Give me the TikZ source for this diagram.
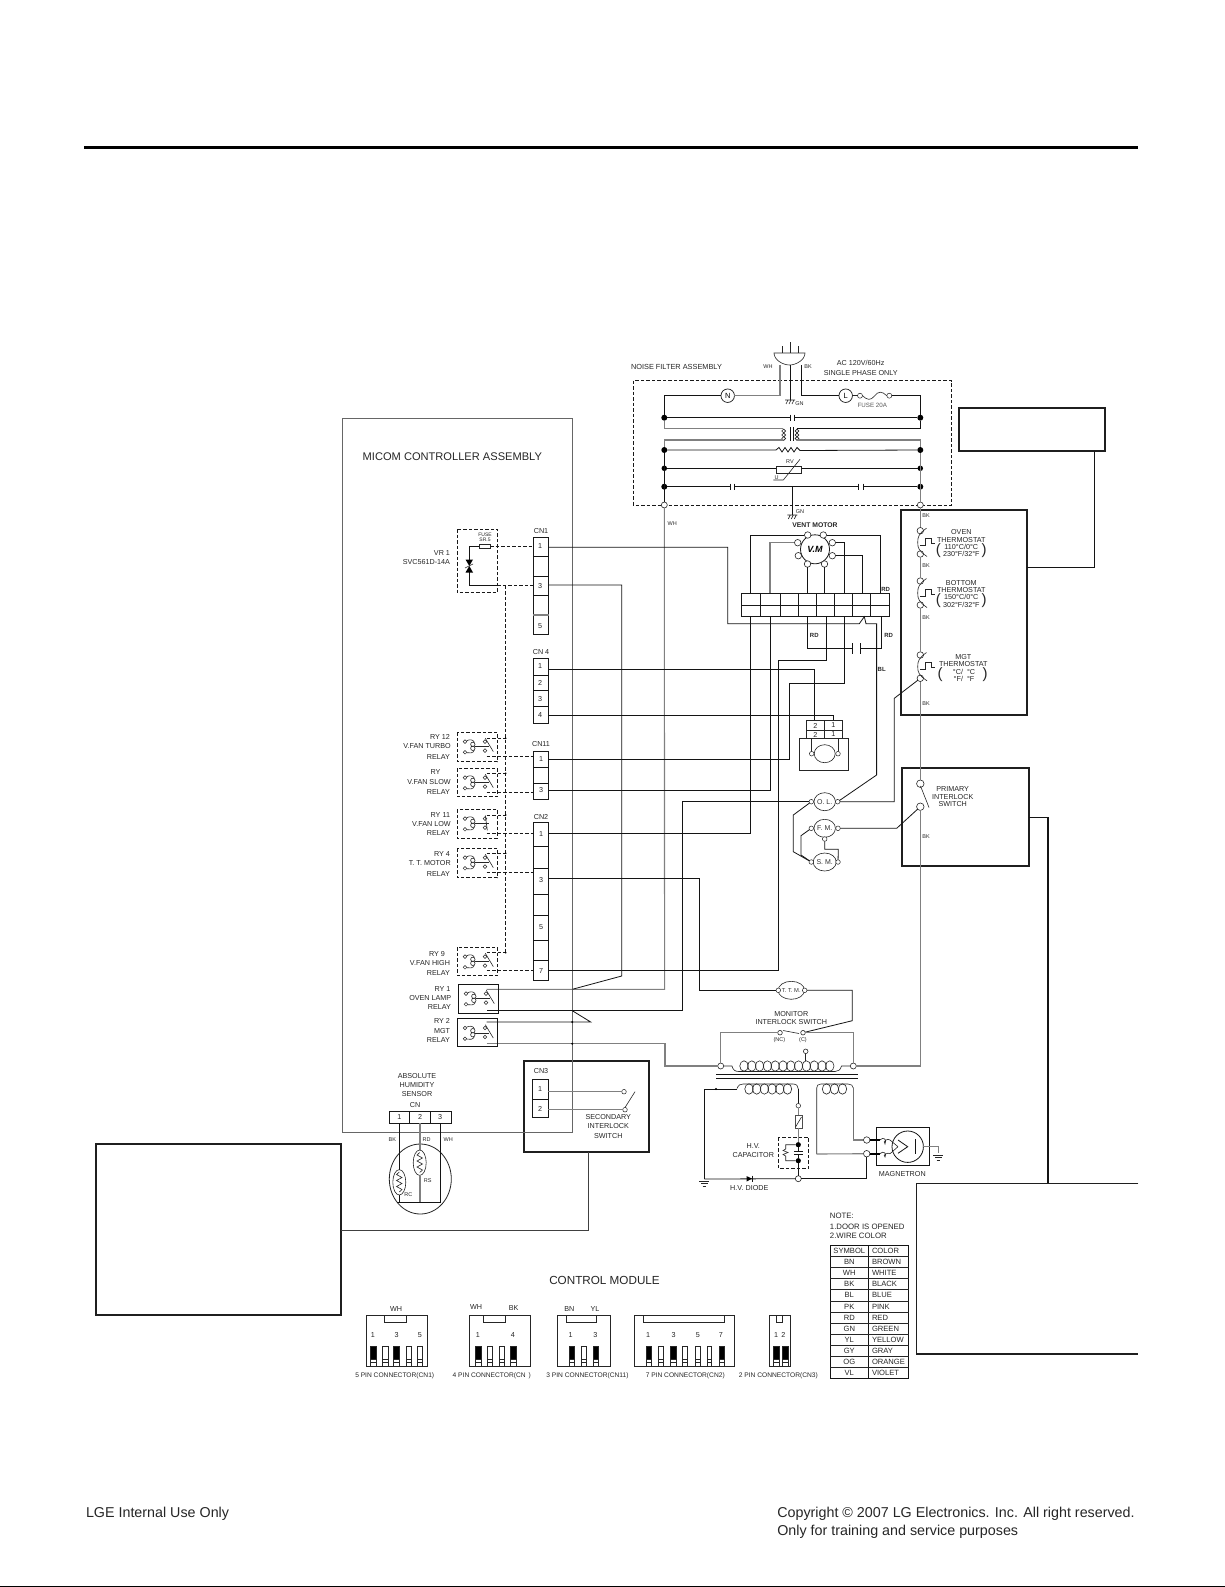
\documentclass[tikz,border=0pt]{standalone}
\usepackage{fontspec}
\setmainfont{Liberation Sans}
\usetikzlibrary{shapes.geometric}
\newcounter{lb}
\tikzset{
 lbl/.style={inner sep=0,outer sep=0,text=black!85,font=\fontsize{7.2}{7.2}\selectfont},
 sm/.style={font=\fontsize{5.5}{5.5}\selectfont},
 smb/.style={font=\fontsize{6}{6}\bfseries\selectfont},
 w/.style={line width=.8,draw=black!92},
 gw/.style={line width=1.1,draw=black!50},
 tw/.style={line width=.6,draw=black!85},
 thickbox/.style={line width=2,draw=black!88},
 dbox/.style={line width=.8,draw=black!90,dash pattern=on 3.5 off 2},
 tc/.style={circle,draw=black!85,line width=.6,fill=white,minimum size=6.5,inner sep=0,outer sep=0},
 tcs/.style={circle,draw=black!85,line width=.5,fill=white,minimum size=3.6,inner sep=0,outer sep=0},
 bigdot/.style={circle,fill=black,minimum size=6,inner sep=0,outer sep=0},
 motor/.style={ellipse,draw=black!85,line width=.6,fill=white,minimum width=21,minimum height=18,inner sep=0,outer sep=0,text=black!80,font=\fontsize{7}{7}\selectfont},
 cell/.style={draw=black!90,line width=.8,fill=white},
 ringn/.style={circle,draw=black!90,line width=.7,minimum size=13.5,inner sep=0,outer sep=0,font=\fontsize{7.5}{7.5}\selectfont},
}
\newcommand{\lab}[4][]{\stepcounter{lb}\node[lbl,#1] (lb\arabic{lb}) at (#2,#3) {#4};}
\newcommand{\gndsym}[2]{\draw[tw] (#1-5,#2)--(#1+5,#2) (#1-3.3,#2+2.5)--(#1+3.3,#2+2.5) (#1-1.7,#2+5)--(#1+1.7,#2+5);}
\newcommand{\hatchgnd}[2]{\draw[tw] (#1-5,#2)--(#1+5,#2) (#1-4,#2+4)--(#1-2,#2) (#1-1,#2+4)--(#1+1,#2) (#1+2,#2+4)--(#1+4,#2);}
\newcommand{\relay}[5]{%
 \begin{scope}[shift={(#2,#3)}]
 \node[tcs] (#1a) at (7.7,9.3) {};
 \node[tcs] (#1b) at (7.7,20) {};
 \node[tcs] (#1k) at (27.7,9.3) {};
 \node[tcs] (#1l) at (27.7,18.3) {};
 \draw[tw] (#1a) .. controls (12,7) and (16,7) .. (17,10);
 \draw[tw] (#1b) .. controls (12,21) and (16,21) .. (17,18);
 \draw[tw] (15.5,12) circle[x radius=2.2,y radius=2.2] (15.5,16) circle[x radius=2.2,y radius=2.2];
 \draw[tw] (18,14.3) -- (32,14.3);
 \draw[tw] (28,6) -- (#4,#5);
 \end{scope}}
\newcommand{\tstat}[3]{% name, top y, bottom y
 \node[tc] (#1t) at (920.3,#2) {};
 \node[tc] (#1b) at (920.3,#3) {};
 \pgfmathsetmacro{\mm}{(#2+#3)/2}
 \draw[tw] (926.5,#2-2.5) .. controls (919,#2+3) and (917.7,\mm-6) .. (917.7,\mm) .. controls (917.7,\mm+6) and (919,#3-3) .. (927,#3+2.5);
 \draw[tw] (920,\mm+3) -- (925.3,\mm+3) -- (925.3,\mm-4) -- (931.7,\mm-4) -- (931.7,\mm+1) -- (935,\mm+1);}
\newcommand{\coilrow}[4]{% x start, y, count, pitch
 \foreach \ci in {1,...,#3}{\draw[tw] (#1+\ci*#4-#4,#2) circle[x radius=4.2,y radius=5.2];}}
\begin{document}
\begin{tikzpicture}[x=1pt,y=-1pt]
\useasboundingbox (0,0) rectangle (1225,1587);
\fill[white] (0,0) rectangle (1225,1587);
% page furniture
\draw[line width=3.3,black] (84,147.3) coordinate (ruleA) -- (1138,147.3) coordinate (ruleB);
\draw[line width=1,black] (0,1586) coordinate (footA) -- (1225,1586) coordinate (footB);
\lab[anchor=west,font=\fontsize{14.3}{14.3}\selectfont]{86}{1513.4}{LGE Internal Use Only}
\lab[anchor=west,font=\fontsize{14.3}{14.3}\selectfont]{777.3}{1513.4}{Copyright © 2007 LG Electronics. Inc. All right reserved.}
\lab[anchor=west,font=\fontsize{14.3}{14.3}\selectfont]{777.3}{1531.6}{Only for training and service purposes}
% blank boxes
\draw[thickbox] (95.7,1144.3) rectangle (341.3,1315);
\draw[line width=1.3,draw=black!88] (1138.3,1183.3) coordinate (rbA) -- (916.3,1183.3) -- (916.3,1354) -- (1138.3,1354);
\draw[thickbox] (959.3,407.7) rectangle (1104.5,450.7);
\draw[thickbox] (901,510) rectangle (1027.3,715);
\draw[thickbox] (901.7,768) rectangle (1029.3,865.7);
\draw[thickbox] (523.7,1061) rectangle (649,1152);
\draw[w] (1094.7,450.7) -- (1094.7,567.3) -- (1027.3,567.3);
\draw[line width=1.4,draw=black!92] (1029.3,817.3) -- (1048,817.3) -- (1048,1183.3);
\draw[line width=1,draw=black!75] (588,1152) -- (588,1230) -- (341.3,1230);
% micom outline
\draw[line width=.9,draw=black!60] (342.7,418) rectangle (572.3,1132);
\lab[anchor=west,font=\fontsize{11.1}{11.1}\selectfont]{362.7}{456.7}{MICOM CONTROLLER ASSEMBLY}
% noise filter
\draw[dbox] (633.3,380.7) rectangle (951.7,505);
\lab[anchor=west,font=\fontsize{7.36}{7.36}\selectfont]{631}{367}{NOISE FILTER ASSEMBLY}
\lab[sm]{768}{366.7}{WH}\lab[sm]{808}{366.7}{BK}
\lab{860.7}{363}{AC 120V/60Hz}\lab{860.7}{372.7}{SINGLE PHASE ONLY}
\lab[font=\fontsize{6.2}{6.2}\selectfont,text=black!65]{872.3}{405.3}{FUSE 20A}
\draw[tw] (774,353) -- (805,353) .. controls (805,360) and (796,365) .. (789.5,365) .. controls (783,365) and (774,360) .. (774,353) -- cycle;
\draw[tw] (782,346)--(782,353) (790,342)--(790,353) (798,346)--(798,353);
\node[ringn] (N) at (727.7,395.7) {N};
\node[ringn] (L) at (845.7,395.7) {L};
\node[tcs,minimum size=5] (fa) at (860,395.7) {};
\node[tcs,minimum size=5] (fb) at (889.3,395.7) {};
\node[bigdot] (d1l) at (664.3,417.7) {};\node[bigdot] (d1r) at (920.3,417.7) {};
\node[bigdot] (d2l) at (664.3,450) {};\node[bigdot] (d2r) at (920.3,450) {};
\node[bigdot,minimum size=5.5] (d3l) at (664.3,468.3) {};\node[bigdot,minimum size=5.5] (d3r) at (920.3,468.3) {};
\node[bigdot] (d4l) at (664.3,486.7) {};\node[bigdot] (d4r) at (920.3,486.7) {};
\node[tc,minimum size=6] (ol) at (664.3,505) {};\node[tc,minimum size=6] (or) at (920.3,505) {};
\draw[gw] (780,365) -- (780,395.7) -- (N);
\draw[w] (790,365) -- (790,400);
\hatchgnd{790}{400}
\lab[sm]{799.5}{403.5}{GN}
\draw[w] (801,365) -- (801,395.7) -- (L);
\draw[w] (N) -- (664.3,395.7) -- (d1l);
\draw[tw] (L) -- (fa);
\draw[tw] (862.5,395.7) .. controls (867,400) and (870.5,401) .. (874.5,396) .. controls (878,391) and (882,391) .. (886.8,395.7);
\draw[w] (fb) -- (920.3,395.7) -- (d1r);
\draw[gw] (d1l) -- (664.3,428.3) -- (783,428.3);
\draw[w] (d1l) -- (790,417.7) (794.3,417.7) -- (d1r);
\draw[w] (790,414.5)--(790,421) (794.3,414.5)--(794.3,421);
\draw[w] (d1r) -- (920.3,428.3) -- (797,428.3);
\foreach \yy in {431,435,438.5}{\draw[tw] (783.7,\yy) circle[radius=1.9] (797,\yy) circle[radius=1.9];}
\draw[w] (790.7,427)--(790.7,441) (793.3,427)--(793.3,441);
\draw[gw] (783,440) -- (664.3,440) -- (d2l);
\draw[gw] (797,440) -- (920.3,440) -- (d2r);
\draw[w] (d2l) -- (776,450) -- (779,447.5) -- (782,452) -- (785,447.5) -- (788,452) -- (791,447.5) -- (794,452) -- (797,447.5) -- (800,450.5) -- (d2r);
\draw[w] (d2l) -- (ol);
\draw[gw] (d2r) -- (or);
\draw[w] (d3l) -- (776.7,468.3);\draw[w] (801.7,468.3) -- (d3r);
\draw[tw,fill=white] (776.7,466) rectangle (801.7,473.3);
\draw[tw] (773.3,480) -- (783.3,480) -- (800,459.3);
\lab[sm]{790}{461.3}{RV}\lab[sm]{776.7}{477.3}{U}
\draw[w] (d4l) -- (730,486.7) (734.3,486.7) -- (858.3,486.7) (863.3,486.7) -- (d4r);
\draw[w] (730,483.5)--(730,490) (734.3,483.5)--(734.3,490) (858.3,483.5)--(858.3,490) (863.3,483.5)--(863.3,490);
\draw[w] (792.3,486.7) -- (792.3,515);
\hatchgnd{792.3}{515}
\lab[sm]{800}{511.7}{GN}
\lab[sm]{672.3}{524}{WH}
% WH vertical
\draw[gw] (ol) -- (664.6,989.3) -- (486.7,989.3);
% vent motor
\lab[font=\fontsize{6.8}{6.8}\bfseries\selectfont]{815}{525.3}{VENT MOTOR}
\node[circle,draw=black!90,line width=.8,fill=white,minimum size=29,inner sep=0,outer sep=0,font=\fontsize{9}{9}\bfseries\itshape\selectfont] (vm) at (815,549.3) {V.M};
\node[tc] (v1) at (797.7,542.7) {};\node[tc] (v2) at (807.7,535) {};\node[tc] (v3) at (823.3,535) {};\node[tc] (v4) at (832.3,542.7) {};
\node[tc] (v5) at (832.3,555.7) {};\node[tc] (v6) at (824.5,564) {};\node[tc] (v7) at (807.5,564) {};\node[tc] (v8) at (798.3,555.7) {};
\foreach \xa/\xb in {741.3/760.7,760.7/780.7,780.7/798.7,798.7/816.7,816.7/834.7,834.7/852.7,852.7/870.7,870.7/889.3}{
 \draw[cell] (\xa,593.3) rectangle (\xb,605);\draw[cell] (\xa,605) rectangle (\xb,616);}
\lab[smb]{885.7}{589.3}{RD}
\draw[w] (v2) -- (750.7,535) -- (750.7,593.3);
\draw[w] (v3) -- (880,535) -- (880,593.3);
\draw[gw] (v1) -- (770,542.7) -- (770,593.3);
\draw[w] (v4) -- (844.3,542.7) -- (844.3,593.3);
\draw[line width=1,draw=black!92] (v5) -- (862.7,555.7) -- (862.7,593.3);
\draw[w] (v7) -- (807.5,593.3);
\draw[w] (v6) -- (824.5,593.3);
% cn blocks
\lab{541}{530.7}{CN1}
\draw[cell] (533.3,537.3) rectangle (548.7,634);
\draw[w] (533.3,556.7)--(548.7,556.7) (533.3,576)--(548.7,576) (533.3,595.7)--(548.7,595.7);
\draw[gw] (533.3,615)--(548.7,615);
\lab{540}{546}{1}\lab{540}{586}{3}\lab{540}{625.7}{5}
\lab{541}{652.3}{CN 4}
\draw[cell] (533.3,658.3) rectangle (548.7,723.3);
\draw[w] (533.3,675)--(548.7,675) (533.3,690.7)--(548.7,690.7) (533.3,706.7)--(548.7,706.7);
\lab{540}{666.3}{1}\lab{540}{683.3}{2}\lab{540}{699}{3}\lab{540}{715}{4}
\lab{541}{744.3}{CN11}
\draw[cell] (533.3,751.7) rectangle (548.7,799.3);
\draw[w] (533.3,767.7)--(548.7,767.7) (533.3,783.3)--(548.7,783.3);
\lab{541}{759}{1}\lab{541}{790}{3}
\lab{541}{816.7}{CN2}
\draw[cell] (533.3,822.7) rectangle (548.7,980);
\draw[w] (533.3,846)--(548.7,846) (533.3,868.3)--(548.7,868.3) (533.3,894)--(548.7,894) (533.3,915.7)--(548.7,915.7) (533.3,940.7)--(548.7,940.7) (533.3,960.7)--(548.7,960.7);
\lab{541}{834.3}{1}\lab{541}{880}{3}\lab{541}{927}{5}\lab{541}{970.7}{7}
\coordinate (cn1a) at (548.7,547.3);\coordinate (cn1c) at (548.7,585);
\coordinate (cn4a) at (548.7,669.3);\coordinate (cn4d) at (548.7,715);
\coordinate (cn11a) at (548.7,759.3);\coordinate (cn11c) at (548.7,790);
\coordinate (cn2a) at (548.7,833.3);\coordinate (cn2c) at (548.7,878.3);\coordinate (cn2g) at (548.7,970.7);
% thermostats
\tstat{oven}{530.7}{554}
\tstat{bott}{581}{605}
\tstat{mgtt}{655}{678.3}
\node[tc,minimum size=7.5] (pi1) at (920.3,783.7) {};
\node[tc,minimum size=7.5] (pi2) at (920.3,806.7) {};
\draw[gw] (or) -- (ovent);
\draw[gw] (ovenb) -- (bottt);
\draw[gw] (bottb) -- (mgttt);
\draw[gw] (mgttb) -- (pi1);
\draw[tw] (920.5,786) -- (929,807.5);
\lab[sm]{926}{516}{BK}\lab[sm]{926}{566}{BK}\lab[sm]{926}{617.3}{BK}\lab[sm]{926}{703.7}{BK}\lab[sm]{926}{836.7}{BK}
\lab{961.3}{532}{OVEN}\lab{961.3}{539.7}{THERMOSTAT}\lab{961.3}{547}{110°C/0°C}\lab{961.3}{554.3}{230°F/32°F}
\lab[font=\fontsize{15}{15}\selectfont]{938.3}{550.7}{(}\lab[font=\fontsize{15}{15}\selectfont]{984}{550.7}{)}
\lab{961.3}{583.3}{BOTTOM}\lab{961.3}{590}{THERMOSTAT}\lab{961.3}{597.3}{150°C/0°C}\lab{961.3}{605}{302°F/32°F}
\lab[font=\fontsize{15}{15}\selectfont]{938.3}{601}{(}\lab[font=\fontsize{15}{15}\selectfont]{984}{601}{)}
\lab{963.3}{657.3}{MGT}\lab{963.3}{664.3}{THERMOSTAT}\lab{964}{671.7}{°C/\hspace{4pt}°C}\lab{964}{679.3}{°F/\hspace{4pt}°F}
\lab[font=\fontsize{15}{15}\selectfont]{940}{675}{(}\lab[font=\fontsize{15}{15}\selectfont]{985}{675}{)}
\lab{952.7}{789.3}{PRIMARY}\lab{952.7}{797}{INTERLOCK}\lab{952.7}{804.3}{SWITCH}
% motor group
\node[motor] (ovl) at (824.7,801.7) {O. L.};
\node[motor] (fm) at (824.7,828.3) {F. M.};
\node[motor] (smot) at (824.7,862) {S. M.};
\node[motor,font=\fontsize{5.8}{5.8}\selectfont] (ttm) at (791.3,990.3) {T. T. M.};
\node[tcs,minimum size=4.6] (ovlL) at (811.3,801.7) {};\node[tcs,minimum size=4.6] (ovlR) at (837.7,801.7) {};
\node[tcs,minimum size=4.6] (fmL) at (811.3,828.3) {};\node[tcs,minimum size=4.6] (fmR) at (838,828.3) {};
\node[tcs,minimum size=4.6] (fmB) at (824.7,839) {};
\node[tcs,minimum size=4.6] (smL) at (811.3,862) {};\node[tcs,minimum size=4.6] (smR) at (838,862) {};
\node[tcs,minimum size=4.6] (ttmL) at (778.3,990.3) {};\node[tcs,minimum size=4.6] (ttmR) at (804.7,990.3) {};
\draw[w] (cn1a) -- (727.7,547.3) -- (727.7,623.7) -- (859.3,623.7) -- (864.3,616.7) -- (866,623.7) -- (876.6,623.7) -- (876.6,775) -- (ovlR);
\draw[w] (cn1c) -- (621.7,585) -- (621.7,976) -- (572.3,989.3);
\draw[w] (cn4a) -- (814.3,669.3) -- (814.3,720.7);
\draw[w] (cn4d) -- (833.3,715) -- (833.3,720.7);
\draw[w] (cn11a) -- (789.3,759.3) -- (789.3,683.3) -- (844.3,683.3) -- (844.3,616);
\draw[w] (cn11c) -- (770.7,790) -- (770.7,616);
\draw[w] (cn2a) -- (750.7,833.3) -- (750.7,616);
\draw[w] (cn2c) -- (699.3,878.3) -- (699.3,990.3) -- (ttmL);
\draw[w] (cn2g) -- (778.7,970.7) -- (778.7,660.7) -- (826.7,660.7) -- (826.7,616);
\draw[w] (807.3,616) -- (807.3,648.3) -- (852.3,648.3);
\draw[w] (860.7,648.3) -- (881.7,648.3) -- (881.7,616);
\draw[w] (852.3,643)--(852.3,654) (860.7,643)--(860.7,654);
\lab[smb]{814.3}{635.3}{RD}\lab[smb]{888.7}{635.3}{RD}\lab[smb]{881.7}{669}{BL}
% fan connector + motor
\draw[tw] (806.3,720.7) rectangle (842.7,738.3);
\draw[tw] (806.3,730)--(842.7,730) (824.3,720.7)--(824.3,738.3);
\lab{815.3}{725.5}{2}\lab{833.3}{725.5}{1}\lab{815.3}{734.5}{2}\lab{833.3}{734.5}{1}
\draw[tw] (799.3,738.3) rectangle (848.7,770.7);
\node[motor] (fan) at (824.7,753.7) {};
\node[tcs,minimum size=4.6] (fanL) at (811.7,753.7) {};\node[tcs,minimum size=4.6] (fanR) at (838,753.7) {};
\draw[tw] (811.7,738.3) -- (fanL);\draw[tw] (838,738.3) -- (fanR);
% O.L / F.M / S.M wiring
\draw[w] (ovlL) -- (682.7,801.7) -- (682.7,1010.7) -- (487,1010.7);
\draw[w] (ovlR) -- (894.3,801.7) -- (894.3,698.3) -- (mgttb);
\draw[w] (ovlL) -- (793.3,815) -- (793.3,851.7) -- (smL);
\draw[w] (fmL) -- (801,835.7) -- (801,855) -- (smL);
\draw[w] (fmB) -- (824.7,849.3) -- (838.3,849.3) -- (smR);
\draw[w] (fmR) -- (896.7,828.3) -- (pi2);
% main line to transformer and TTM
\node[tc,minimum size=6] (tl) at (720.7,1066) {};
\node[tc,minimum size=6] (tr) at (853.3,1066) {};
\node[tc,minimum size=4.6] (nc) at (780,1032.7) {};
\node[tc,minimum size=4.6] (cc) at (803,1032.7) {};
\node[tc,minimum size=4.6] (tap) at (805.7,1051.3) {};
\draw[gw] (pi2) -- (920.3,1066) -- (tr);
\draw[gw] (486.7,1043.7) -- (665,1043.7) -- (665,1066) -- (tl);
\draw[w] (ttmR) -- (852.3,990.3) -- (852.3,1020.7) -- (cc);
\draw[gw] (nc) -- (720.7,1032.7) -- (tl);
\draw[gw] (cc) -- (853.3,1032.7) -- (tr);
\draw[tw] (783,1030.5) -- (799,1033.5);
\lab{791.3}{1014}{MONITOR}\lab{791.3}{1021.7}{INTERLOCK SWITCH}
\lab[sm]{779.3}{1040}{(NC)}\lab[sm]{803}{1040}{(C)}
\coilrow{744}{1066}{12}{7.8}
\draw[tw] (tl) -- (732,1066) .. controls (733,1070) and (735,1071.5) .. (739,1071.5);
\draw[tw] (tr) -- (841.5,1066) .. controls (840.5,1070) and (838,1071.5) .. (835,1071.5);
\draw[tw] (739,1071.5) -- (835,1071.5);
\draw[tw] (tap) -- (805.7,1061);
\draw[w,line width=1] (716,1074.7) coordinate (coreA) -- (858.3,1074.7) (716,1078.3) -- (858.3,1078.3);
% HV secondary
\coilrow{749}{1089}{6}{7.7}
\draw[tw] (737,1088.5) .. controls (738.5,1085) and (740,1084) .. (743,1084) -- (793,1084) .. controls (796.5,1084) and (798.3,1086) .. (798.3,1089);
\draw[w] (737,1089) -- (704.3,1089) -- (704.3,1179);
\fill[black] (716,1089) circle[radius=1.2];
\node[tcs,minimum size=4.6] (hv1) at (798.3,1105.7) {};
\draw[w] (798.3,1089) -- (hv1);
\draw[tw,fill=white,draw=black!70] (795,1115.3) rectangle (802,1128.3);
\draw[tw] (795.5,1127) -- (801.5,1117);
\draw[gw] (hv1) -- (798.3,1115.3);
\node[bigdot,minimum size=5.2] (cd1) at (798.3,1144.7) {};
\node[bigdot,minimum size=5.2] (cd2) at (798.3,1160.7) {};
\node[tc,minimum size=6] (hvb) at (798.3,1178.7) {};
\draw[gw] (798.3,1128.3) -- (cd1);
\draw[w] (cd1) -- (798.3,1151.7) (cd2) -- (798.3,1154.7);
\draw[w] (794,1151.7)--(802.7,1151.7) (794,1154.7)--(802.7,1154.7);
\draw[w] (cd2) -- (hvb);
\draw[tw] (cd1) -- (785.7,1144.7) -- (785.7,1149) -- (783,1150.5) -- (788,1152.5) -- (783,1154.5) -- (785.7,1156) -- (785.7,1160.7) -- (cd2);
\draw[dbox,line width=.7] (778.3,1137.3) rectangle (808.7,1168.3);
\lab{753.3}{1145.7}{H.V.}\lab{753.3}{1155}{CAPACITOR}\lab{749.3}{1187.7}{H.V. DIODE}
\draw[w] (704.3,1179) -- (hvb);
\gndsym{704.3}{1181}
\fill[black] (746.5,1176) -- (746.5,1181.5) -- (752,1178.7) -- cycle;
\draw[w] (752,1175.5) -- (752,1182);
% filament
\coilrow{826.5}{1089}{3}{8}
\draw[tw] (816.7,1154) -- (816.7,1088) .. controls (816.7,1085.5) and (818,1084) .. (821,1084) -- (848,1084) .. controls (851,1084) and (853.3,1085.5) .. (853.3,1088) -- (853.3,1140);
% magnetron
\node[tc] (mg1) at (866.7,1140) {};
\node[tc] (mg2) at (866.7,1153.7) {};
\draw[gw] (816.7,1154) -- (mg2);
\draw[gw] (853.3,1140) -- (mg1);
\draw[w] (hvb) -- (866.7,1178.7) -- (mg2);
\draw[w,line width=1] (876.7,1127.7) rectangle (929.3,1165.3);
\draw[line width=2] (mg1) ++(3.2,0) -- (879.7,1140) (mg2) ++(3.2,0) -- (879.7,1153.7);
\draw[tw] (879.7,1140) .. controls (884,1136) and (887,1140) .. (885,1144) .. controls (882,1141) and (888,1138) .. (890,1140);
\draw[tw] (879.7,1153.7) .. controls (884,1150) and (887,1154) .. (885,1157) .. controls (882,1155) and (888,1152) .. (890,1153.7);
\draw[tw] (890,1140) -- (898,1146.7) (890,1153.7) -- (898,1146.7);
\draw[w] (907.7,1146.7) circle[radius=15.7];
\draw[w] (898,1140) -- (907.7,1146.7) -- (898,1153.3);
\draw[w] (915,1139.3) -- (915,1154);
\draw[gw] (923.4,1146.7) -- (938.3,1146.7) -- (938.3,1153);
\gndsym{938.3}{1155}
\lab{902.3}{1173.7}{MAGNETRON}
% relays and VR
\draw[dbox] (457.3,529) rectangle (497.3,592.7);
\lab[font=\fontsize{5}{5}\selectfont]{485}{534.3}{FUSE}\lab[font=\fontsize{5}{5}\selectfont]{485}{539.3}{SR.5}
\draw[tw,fill=white] (479.3,544.7) rectangle (490,548.7);
\draw[w] (479.3,546.7) -- (469.3,546.7) -- (469.3,560);
\draw[w] (469.3,571.7) -- (469.3,585.7) -- (497.3,585.7);
\draw[dbox] (490,546.7) -- (533.3,546.7);
\draw[dbox] (497.3,585.7) -- (533.3,585.7);
\fill[black] (465.5,559.5) -- (473,559.5) -- (469.3,566) -- cycle;
\fill[black] (465.5,572.5) -- (473,572.5) -- (469.3,566) -- cycle;
\draw[tw] (465,568) -- (473,564);
\lab[anchor=east]{450}{553.3}{VR 1}\lab[anchor=east]{450}{562}{SVC561D-14A}
\draw[dbox] (505.7,585.7) -- (505.7,952.7);
\foreach \ya/\yb in {732.3/761.7,768.3/796.7,809.3/838.3,848.3/877.7,947.3/975.7}{\draw[dbox] (457.3,\ya) rectangle (497.3,\yb);}
\relay{ra}{457.3}{732.3}{36}{19.3}
\relay{rb}{457.3}{768.3}{36}{19.3}
\relay{rc}{457.3}{809.3}{30}{21}
\relay{rd}{457.3}{848.3}{36}{19.3}
\relay{re}{457.3}{947.3}{36}{19.3}
\draw[w] (458.3,984.3) rectangle (498.3,1013.3);
\draw[w] (457.3,1018.7) rectangle (497.3,1046);
\relay{rf}{458.3}{984.3}{36}{19.3}
\relay{rg}{457.3}{1018.7}{36}{19.3}
\foreach \yy in {738.3,773.3,815,853.3,952.7}{\draw[dbox] (486.7,\yy) -- (505.7,\yy);\fill[black] (505.7,\yy) circle[radius=.9];}
\foreach \yy in {756.7,792.3,833.3,872,970}{\draw[dbox] (486.7,\yy) -- (533.3,\yy);}
\draw[w] (572.3,1010.7) -- (590.7,1022) -- (486.7,1022);
\fill[black] (572.3,1022) circle[radius=1.1] (572.3,1043.7) circle[radius=1.1];
\lab[anchor=east]{450}{736.7}{RY 12}\lab[anchor=east]{450.7}{746}{V.FAN TURBO}\lab[anchor=east]{450}{756.7}{RELAY}
\lab{435.5}{771.7}{RY}\lab[anchor=east]{450.7}{782.3}{V.FAN SLOW}\lab[anchor=east]{450}{792.3}{RELAY}
\lab[anchor=east]{450}{815}{RY 11}\lab[anchor=east]{450.7}{824}{V.FAN LOW}\lab[anchor=east]{450}{833.3}{RELAY}
\lab[anchor=east]{450}{853.7}{RY 4}\lab[anchor=east]{450.7}{863.3}{T. T. MOTOR}\lab[anchor=east]{450}{874}{RELAY}
\lab[anchor=east]{445}{954}{RY 9}\lab[anchor=east]{450}{963.3}{V.FAN HIGH}\lab[anchor=east]{450}{973}{RELAY}
\lab[anchor=east]{450.5}{989}{RY 1}\lab[anchor=east]{451.3}{998.3}{OVEN LAMP}\lab[anchor=east]{451}{1006.7}{RELAY}
\lab[anchor=east]{450}{1021.3}{RY 2}\lab[anchor=east]{450}{1030.7}{MGT}\lab[anchor=east]{450}{1040}{RELAY}
% CN3 + secondary switch
\lab{541}{1071.3}{CN3}
\draw[cell] (532.7,1079.3) rectangle (548.3,1117.3);
\draw[w] (532.7,1099.3)--(548.3,1099.3);
\lab{540}{1089.3}{1}\lab{540}{1108.7}{2}
\node[tcs,minimum size=4.6] (s1) at (624,1091.7) {};
\node[tcs,minimum size=4.6] (s2) at (625,1109.7) {};
\draw[gw,line width=.9] (548.3,1091.7) -- (s1);
\draw[gw,line width=.9] (548.3,1109.7) -- (s2);
\draw[tw] (625,1107.5) -- (635,1091.7);
\lab{608.3}{1116.7}{SECONDARY}\lab{608.3}{1126}{INTERLOCK}\lab{608.3}{1135.7}{SWITCH}
% humidity sensor
\lab{417}{1076}{ABSOLUTE}\lab{417}{1085}{HUMIDITY}\lab{417}{1094.3}{SENSOR}\lab{415}{1104.7}{CN}
\draw[cell] (389.3,1111.3) rectangle (451,1123.3);
\draw[w] (409.7,1111.3)--(409.7,1123.3) (430.3,1111.3)--(430.3,1123.3);
\lab{399.3}{1117.3}{1}\lab{420}{1117.3}{2}\lab{440}{1117.3}{3}
\lab[sm]{392.3}{1139.3}{BK}\lab[sm]{426.7}{1139.3}{RD}\lab[sm]{448.3}{1139.3}{WH}
\draw[w,draw=black!85] (420.3,1179) circle[x radius=31,y radius=35];
\draw[w] (399.3,1123.3) -- (399.3,1170);
\draw[w] (399.3,1195) -- (399.3,1202.3);
\draw[gw] (420,1123.3) -- (420,1150);
\draw[gw] (420,1175.5) -- (420,1202.3);
\draw[w] (440.3,1123.3) -- (440.3,1202.3) -- (397,1202.3);
\draw[tw] (399.3,1182.3) circle[x radius=6.5,y radius=12.7];
\draw[tw] (419.7,1162.7) circle[x radius=6.5,y radius=12.7];
\draw[tw] (399.3,1172) -- (396.5,1174.5) -- (402,1177.5) -- (396.5,1180.5) -- (402,1183.5) -- (396.5,1186.5) -- (402,1189.5) -- (399.3,1192);
\draw[tw] (419.7,1152.5) -- (417,1155) -- (422.5,1158) -- (417,1161) -- (422.5,1164) -- (417,1167) -- (422.5,1170) -- (419.7,1172.5);
\lab[sm]{408.3}{1194.3}{RC}\lab[sm]{427.7}{1181}{RS}
% connectors
\begin{scope}[shift={(350,1200)},x=0.3636pt,y=-0.33333pt]
\lab[font=\fontsize{11.7}{11.7}\selectfont]{700}{242}{CONTROL MODULE}
\newcommand{\connbody}[4]{\draw[tw,line width=.8] (#1,347) rectangle (#2,498);\draw[tw,line width=.8] (#3,347) -- (#3,367) -- (#4,367) -- (#4,347);}
\newcommand{\pinb}[3]{\draw[tw,fill=#3] (#1,438) rectangle (#2,478);\draw[tw,fill=white] (#1,478) rectangle (#2,498);\draw[tw] (#1,488) -- (#2,488);}
\connbody{45}{213}{95}{155}
\foreach \a/\b/\c in {56/72/black,90/104/white,120/136/black,155/168/white,185/200/white}{\pinb{\a}{\b}{\c}}
\lab{127}{327}{WH}\lab{63}{404}{1}\lab{128}{404}{3}\lab{192}{404}{5}
\lab[font=\fontsize{6.65}{6.65}\selectfont]{123}{528}{5 PIN CONNECTOR(CN1)}
\connbody{328}{495}{367}{428}
\foreach \a/\b/\c in {345/360/black,378/390/white,410/425/white,441/456/black}{\pinb{\a}{\b}{\c}}
\lab{347}{322}{WH}\lab{450}{324}{BK}\lab{352}{404}{1}\lab{448}{404}{4}
\lab[font=\fontsize{6.65}{6.65}\selectfont]{390}{528}{4 PIN CONNECTOR(CN\hspace{3pt})}
\connbody{571}{716}{595}{677}
\foreach \a/\b/\c in {602/618/black,637/650/white,668/684/black}{\pinb{\a}{\b}{\c}}
\lab{603}{327}{BN}\lab{674}{327}{YL}\lab{607}{404}{1}\lab{675}{404}{3}
\lab[font=\fontsize{6.65}{6.65}\selectfont]{653}{528}{3 PIN CONNECTOR(CN11)}
\connbody{782}{1057}{808}{1030}
\foreach \a/\b/\c in {814/830/black,848/862/white,882/898/black,915/928/white,950/964/white,982/994/white,1015/1030/black}{\pinb{\a}{\b}{\c}}
\lab{820}{404}{1}\lab{890}{404}{3}\lab{957}{404}{5}\lab{1020}{404}{7}
\lab[font=\fontsize{6.65}{6.65}\selectfont]{922}{528}{7 PIN CONNECTOR(CN2)}
\connbody{1154}{1212}{1173}{1190}
\foreach \a/\b/\c in {1164/1180/black,1188/1206/black}{\pinb{\a}{\b}{\c}}
\lab{1172}{404}{1}\lab{1192}{404}{2}
\lab[font=\fontsize{6.65}{6.65}\selectfont]{1178}{528}{2 PIN CONNECTOR(CN3)}
\lab[anchor=west,font=\fontsize{7.8}{7.8}\selectfont]{1320}{48}{NOTE:}
\lab[anchor=west,font=\fontsize{7.8}{7.8}\selectfont]{1320}{80}{1.DOOR IS OPENED}
\lab[anchor=west,font=\fontsize{7.8}{7.8}\selectfont]{1320}{107}{2.WIRE COLOR}
\draw[w] (1321,136) rectangle (1537,536);
\draw[w] (1426,136) -- (1426,536);
\foreach \r in {1,...,11}{\draw[tw] (1321,136+\r*33.33) -- (1537,136+\r*33.33);}
\end{scope}
\foreach \s/\c [count=\i from 0] in {SYMBOL/COLOR,BN/BROWN,WH/WHITE,BK/BLACK,BL/BLUE,PK/PINK,RD/RED,GN/GREEN,YL/YELLOW,GY/GRAY,OG/ORANGE,VL/VIOLET}{
 \pgfmathsetmacro{\ty}{1250.9+\i*11.11}
 \lab[font=\fontsize{7.6}{7.6}\selectfont]{849.3}{\ty}{\s}
 \lab[anchor=west,font=\fontsize{7.6}{7.6}\selectfont]{872}{\ty}{\c}
}
\end{tikzpicture}
\end{document}
